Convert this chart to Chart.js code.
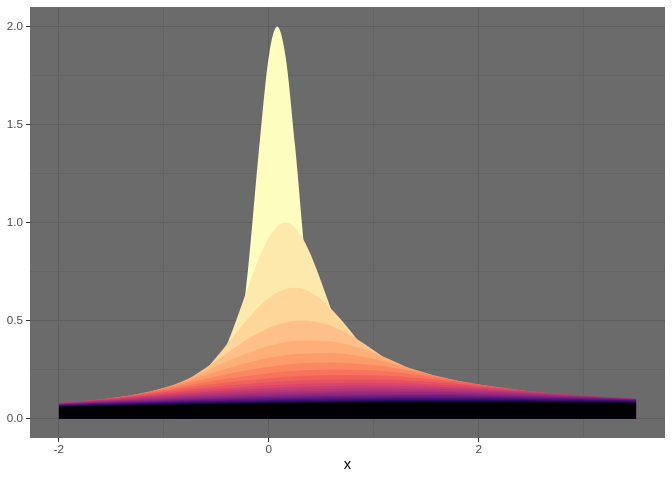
<!DOCTYPE html>
<html>
<head>
<meta charset="utf-8">
<title>Scaled densities</title>
<script src="https://cdn.jsdelivr.net/npm/chart.js@4.4.0/dist/chart.umd.min.js"></script>
<style>
  html, body { margin: 0; padding: 0; background: #ffffff; }
  #chart { display: block; }
</style>
</head>
<body>
<canvas id="chart" width="672" height="480"></canvas>
<script>
// --- 1. Data ---

// x positions: a fine grid for the narrow curves, a coarse one for the flat ones
const xFine = [-2, -1.6, -1.2, -1, -0.8, -0.6, -0.5, -0.4, -0.3, -0.2, -0.1, 0, 0.08, 0.16, 0.25, 0.35, 0.45, 0.55, 0.7, 0.85, 1, 1.2, 1.5, 2, 2.5, 3, 3.5];
const xCoarse = [-2, -1.5, -1, -0.6, -0.3, 0, 0.3, 0.6, 1, 1.5, 2, 2.5, 3, 3.5];

// curves 1-4 on xFine
const curve1 = [0, 0, 0, 0, 0, 0.006, 0.030, 0.112, 0.329, 0.751, 1.334, 1.846, 2.000, 1.846, 1.394, 0.804, 0.361, 0.126, 0.016, 0.001, 0, 0, 0, 0, 0, 0, 0];
const curve2 = [0, 0, 0.003, 0.015, 0.056, 0.164, 0.256, 0.375, 0.516, 0.667, 0.810, 0.923, 0.980, 1.000, 0.975, 0.893, 0.769, 0.622, 0.402, 0.226, 0.110, 0.034, 0.004, 0, 0, 0, 0];
const curve3 = [0.001, 0.006, 0.037, 0.079, 0.148, 0.250, 0.312, 0.377, 0.445, 0.509, 0.568, 0.615, 0.643, 0.661, 0.667, 0.656, 0.627, 0.583, 0.497, 0.398, 0.299, 0.185, 0.074, 0.009, 0.001, 0, 0];
const curve4 = [0.007, 0.028, 0.082, 0.128, 0.188, 0.258, 0.296, 0.333, 0.370, 0.405, 0.436, 0.462, 0.478, 0.490, 0.498, 0.500, 0.493, 0.480, 0.447, 0.401, 0.348, 0.273, 0.168, 0.055, 0.012, 0.002, 0];

// curves 5-25 on xCoarse
const curve5 = [0.022, 0.066, 0.150, 0.243, 0.313, 0.369, 0.398, 0.392, 0.334, 0.218, 0.111, 0.044, 0.014, 0.003];
const curve6 = [0.039, 0.085, 0.156, 0.222, 0.270, 0.308, 0.330, 0.332, 0.303, 0.232, 0.149, 0.081, 0.037, 0.014];
const curve7 = [0.054, 0.097, 0.154, 0.203, 0.237, 0.264, 0.281, 0.286, 0.272, 0.228, 0.168, 0.109, 0.063, 0.032];
const curve8 = [0.064, 0.102, 0.148, 0.185, 0.210, 0.231, 0.244, 0.250, 0.244, 0.216, 0.174, 0.127, 0.084, 0.051];
const curve9 = [0.071, 0.104, 0.141, 0.170, 0.189, 0.205, 0.216, 0.222, 0.220, 0.202, 0.173, 0.136, 0.100, 0.067];
const curve10 = [0.075, 0.103, 0.133, 0.157, 0.172, 0.185, 0.194, 0.199, 0.199, 0.188, 0.167, 0.139, 0.109, 0.080];
const curve11 = [0.077, 0.101, 0.126, 0.145, 0.157, 0.168, 0.176, 0.180, 0.182, 0.175, 0.160, 0.139, 0.114, 0.089];
const curve12 = [0.078, 0.099, 0.119, 0.135, 0.145, 0.154, 0.160, 0.165, 0.167, 0.163, 0.152, 0.136, 0.116, 0.095];
const curve13 = [0.078, 0.095, 0.113, 0.126, 0.135, 0.142, 0.148, 0.152, 0.154, 0.151, 0.144, 0.131, 0.116, 0.098];
const curve14 = [0.077, 0.092, 0.107, 0.118, 0.126, 0.132, 0.137, 0.140, 0.143, 0.142, 0.136, 0.127, 0.114, 0.100];
const curve15 = [0.075, 0.089, 0.102, 0.111, 0.118, 0.123, 0.127, 0.131, 0.133, 0.133, 0.129, 0.121, 0.111, 0.099];
const curve16 = [0.074, 0.086, 0.097, 0.105, 0.111, 0.115, 0.119, 0.122, 0.125, 0.125, 0.122, 0.116, 0.108, 0.098];
const curve17 = [0.072, 0.083, 0.092, 0.100, 0.104, 0.109, 0.112, 0.115, 0.117, 0.118, 0.116, 0.111, 0.105, 0.097];
const curve18 = [0.070, 0.080, 0.088, 0.095, 0.099, 0.103, 0.106, 0.108, 0.110, 0.111, 0.110, 0.106, 0.101, 0.094];
const curve19 = [0.069, 0.077, 0.085, 0.090, 0.094, 0.097, 0.100, 0.102, 0.104, 0.105, 0.104, 0.102, 0.098, 0.092];
const curve20 = [0.067, 0.074, 0.081, 0.086, 0.089, 0.092, 0.095, 0.097, 0.099, 0.100, 0.100, 0.098, 0.094, 0.089];
const curve21 = [0.065, 0.072, 0.078, 0.082, 0.085, 0.088, 0.090, 0.092, 0.094, 0.095, 0.095, 0.093, 0.091, 0.087];
const curve22 = [0.063, 0.069, 0.075, 0.079, 0.081, 0.084, 0.086, 0.088, 0.090, 0.091, 0.091, 0.090, 0.087, 0.084];
const curve23 = [0.061, 0.067, 0.072, 0.076, 0.078, 0.080, 0.082, 0.084, 0.086, 0.087, 0.087, 0.086, 0.084, 0.081];
const curve24 = [0.060, 0.065, 0.069, 0.073, 0.075, 0.077, 0.079, 0.080, 0.082, 0.083, 0.083, 0.083, 0.081, 0.079];
const curve25 = [0.058, 0.063, 0.067, 0.070, 0.072, 0.074, 0.076, 0.077, 0.078, 0.080, 0.080, 0.080, 0.078, 0.076];

const curves = [curve1, curve2, curve3, curve4, curve5, curve6, curve7, curve8, curve9, curve10,
    curve11, curve12, curve13, curve14, curve15, curve16, curve17, curve18, curve19, curve20,
    curve21, curve22, curve23, curve24, curve25];

// magma palette, 25 steps, dark -> light
const magma25 = ['#000004', '#06051A', '#0F0B2C', '#1C0F45', '#2D115E', '#3E0F71', '#50127A', '#61187F',
    '#711F81', '#832682', '#932B80', '#A5317D', '#B63779', '#C63D73', '#D7466B', '#E65165',
    '#F0615E', '#F7735D', '#FB8762', '#FD9B6B', '#FEAF78', '#FEC088', '#FED699', '#FDE9AB', '#FCFDBF'];

// axis breaks
const xTicks = [-2, -1, 0, 1, 2, 3];
const xMajor = [-2, 0, 2];
const yTicks = [0, 0.25, 0.5, 0.75, 1, 1.25, 1.5, 1.75, 2];
const yMajor = [0, 0.5, 1, 1.5, 2];

// --- 2. Datasets ---
// the first dataset is painted last, so the flattest (darkest) curve goes first
const datasets = [];
for (let s = curves.length; s >= 1; s--) {
    const ys = curves[s - 1];
    const xs = ys.length === xFine.length ? xFine : xCoarse;
    datasets.push({
        label: 'curve ' + s,
        data: xs.map((x, i) => ({ x: x, y: ys[i] })),
        backgroundColor: magma25[curves.length - s],
        borderColor: 'rgba(0,0,0,0)',
        borderWidth: 0,
        pointRadius: 0,
        fill: 'origin',
        cubicInterpolationMode: 'monotone'
    });
}

// --- 3. Theme helpers ---
const panelBg = {
    id: 'panelBg',
    beforeDraw: (chart) => {
        const { ctx, chartArea: a } = chart;
        ctx.save();
        ctx.fillStyle = '#6B6B6B';
        ctx.fillRect(a.left, a.top, a.right - a.left, a.bottom - a.top);
        ctx.restore();
    }
};

const gridColor = '#5E5E5E';
const tickFont = { family: "'Liberation Sans', Arial, sans-serif", size: 11.7 };

const gridFor = (major) => ({
    color: gridColor,
    lineWidth: (c) => major.includes(c.tick && c.tick.value) ? 1 : 0.6,
    tickColor: (c) => major.includes(c.tick && c.tick.value) ? '#333333' : 'rgba(0,0,0,0)',
    tickLength: 4,
    tickWidth: 1
});

Chart.defaults.font.family = "'Liberation Sans', Arial, sans-serif";

// --- 4. Chart ---
new Chart(document.getElementById('chart'), {
    type: 'line',
    data: { datasets: datasets },
    options: {
        responsive: false,
        animation: false,
        events: [],
        layout: { padding: { top: 7, right: 7, left: 0, bottom: 0 } },
        plugins: {
            legend: { display: false },
            tooltip: { enabled: false }
        },
        scales: {
            x: {
                type: 'linear',
                min: -2.275,
                max: 3.775,
                afterBuildTicks: (scale) => { scale.ticks = xTicks.map(v => ({ value: v })); },
                afterFit: (scale) => {
                    scale.height = 42;
                    scale.paddingLeft = 0;
                    scale.paddingRight = 0;
                },
                grid: gridFor(xMajor),
                border: { display: false },
                ticks: {
                    autoSkip: false,
                    maxRotation: 0,
                    padding: 1,
                    color: '#4D4D4D',
                    font: tickFont,
                    callback: (v) => xMajor.includes(v) ? String(v) : ''
                },
                title: {
                    display: true,
                    text: 'x',
                    color: '#000000',
                    font: { size: 14.7 },
                    padding: { top: 0, bottom: 6 }
                }
            },
            y: {
                type: 'linear',
                min: -0.1,
                max: 2.1,
                afterBuildTicks: (scale) => { scale.ticks = yTicks.map(v => ({ value: v })); },
                afterFit: (scale) => {
                    scale.width = 30;
                    // keep the panel edges where the layout padding puts them
                    scale.paddingTop = 0;
                    scale.paddingBottom = 0;
                },
                grid: gridFor(yMajor),
                border: { display: false },
                ticks: {
                    padding: 3,
                    color: '#4D4D4D',
                    font: tickFont,
                    callback: (v) => yMajor.includes(v) ? v.toFixed(1) : ''
                }
            }
        }
    },
    plugins: [panelBg]
});
</script>
</body>
</html>
